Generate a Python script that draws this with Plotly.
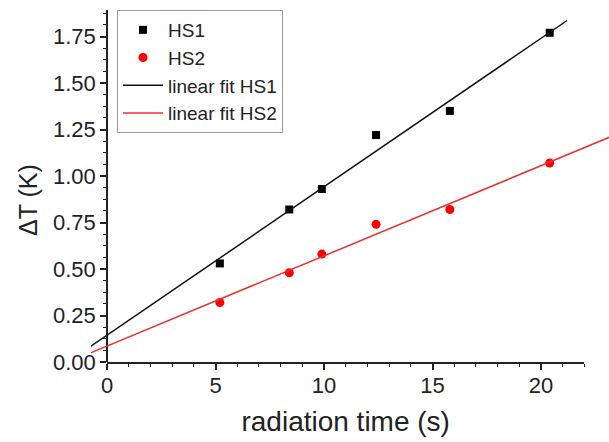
import plotly.graph_objects as go

# Data
time_s = [5.2, 8.4, 9.9, 12.4, 15.8, 20.4]
hs1_dT = [0.53, 0.82, 0.93, 1.22, 1.35, 1.77]
hs2_dT = [0.32, 0.48, 0.58, 0.74, 0.82, 1.07]

# Fit lines (end points)
fit1_x = [-0.8, 21.2]
fit1_y = [0.080, 1.836]
fit2_x = [-0.8, 23.6]
fit2_y = [0.047, 1.230]

x_ticks = [0, 5, 10, 15, 20]

FONT = "Liberation Sans, Arial, sans-serif"
INK = "#222222"

W, H = 609, 442
plot_left_pg, plot_right_pg, plot_top_pg, plot_bottom_pg = 91, 609, 10, 362
L = plot_left_pg
T = plot_top_pg
R = W - plot_right_pg
B = H - plot_bottom_pg
pw = W - L - R
ph = H - T - B
px_per_unit = 21.7
yaxis_pg = 107
x0_px = yaxis_pg - plot_left_pg
x_left = -x0_px / px_per_unit
x_right = x_left + pw / px_per_unit
axis_end = 22
d0 = x0_px / pw
d1 = (x0_px + axis_end * px_per_unit) / pw
y_top = ph / 186.0


def px_to_paper_x(xpg):
    return (xpg - plot_left_pg) / pw


def px_to_paper_y(ypg):
    return 1 - (ypg - plot_top_pg) / ph


fig = go.Figure()
# invisible trace that keeps the visible x axis (0..22) attached to the plot
fig.add_trace(go.Scatter(x=time_s, y=hs1_dT, mode="markers", xaxis="x", yaxis="y",
                         marker=dict(opacity=0), showlegend=False, hoverinfo="skip"))
fig.add_trace(go.Scatter(x=time_s, y=hs1_dT, mode="markers", name="HS1",
                         xaxis="x2", yaxis="y",
                         marker=dict(symbol="square", size=8, color="black")))
fig.add_trace(go.Scatter(x=time_s, y=hs2_dT, mode="markers", name="HS2",
                         xaxis="x2", yaxis="y",
                         marker=dict(symbol="circle", size=9, color="#ff0000")))
fig.add_trace(go.Scatter(x=fit1_x, y=fit1_y, mode="lines", name="linear fit HS1",
                         xaxis="x2", yaxis="y",
                         line=dict(color="#111111", width=1.5)))
fig.add_trace(go.Scatter(x=fit2_x, y=fit2_y, mode="lines", name="linear fit HS2",
                         xaxis="x2", yaxis="y",
                         line=dict(color="#e8302c", width=1.5)))

fig.update_layout(
    width=W, height=H,
    margin=dict(l=L, r=R, t=T, b=B, autoexpand=False),
    paper_bgcolor="white", plot_bgcolor="rgba(0,0,0,0)",
    font=dict(family=FONT, size=22, color=INK),
    showlegend=True,
    legend=dict(x=px_to_paper_x(117), y=px_to_paper_y(10),
                xanchor="left", yanchor="top",
                bordercolor="#9a9a9a", borderwidth=1, bgcolor="white",
                font=dict(family=FONT, size=19, color=INK),
                tracegroupgap=0, itemwidth=40),
    xaxis=dict(domain=[d0, d1], range=[0, axis_end], anchor="y",
               automargin=False,
               showline=True, linecolor=INK, linewidth=1.5,
               showgrid=False, zeroline=False,
               tickmode="array", tickvals=x_ticks,
               ticks="outside", ticklen=6, tickwidth=1.5, tickcolor=INK,
               ticklabelstandoff=-3,
               minor=dict(dtick=1, tick0=0, ticks="outside", ticklen=3,
                          tickwidth=1.2, tickcolor=INK, showgrid=False),
               tickfont=dict(family=FONT, size=22, color=INK),
               title=dict(text="radiation time (s)",
                          font=dict(family=FONT, size=28, color=INK),
                          standoff=14)),
    xaxis2=dict(domain=[0, 1], range=[x_left, x_right], anchor="y",
                automargin=False,
                visible=False, showgrid=False, zeroline=False),
    yaxis=dict(domain=[0, 1], range=[0, y_top], anchor="free", position=d0,
               automargin=False,
               showline=True, linecolor=INK, linewidth=1.5,
               showgrid=False, zeroline=False,
               tick0=0, dtick=0.25, tickformat=".2f",
               ticks="outside", ticklen=6, tickwidth=1.5, tickcolor=INK,
               minor=dict(dtick=0.0625, tick0=0, ticks="outside", ticklen=3,
                          tickwidth=1.2, tickcolor=INK, showgrid=False),
               tickfont=dict(family=FONT, size=22, color=INK)),
    annotations=[dict(text="ΔT (K)", xref="paper", yref="paper",
                      x=px_to_paper_x(28), y=px_to_paper_y(200),
                      xanchor="center", yanchor="middle", textangle=-90,
                      showarrow=False,
                      font=dict(family=FONT, size=25, color=INK))],
)

fig.write_html("out.html",
               config={"displayModeBar": False},
               post_script="document.body.style.margin='0';"
                           "document.body.style.overflow='hidden';")
